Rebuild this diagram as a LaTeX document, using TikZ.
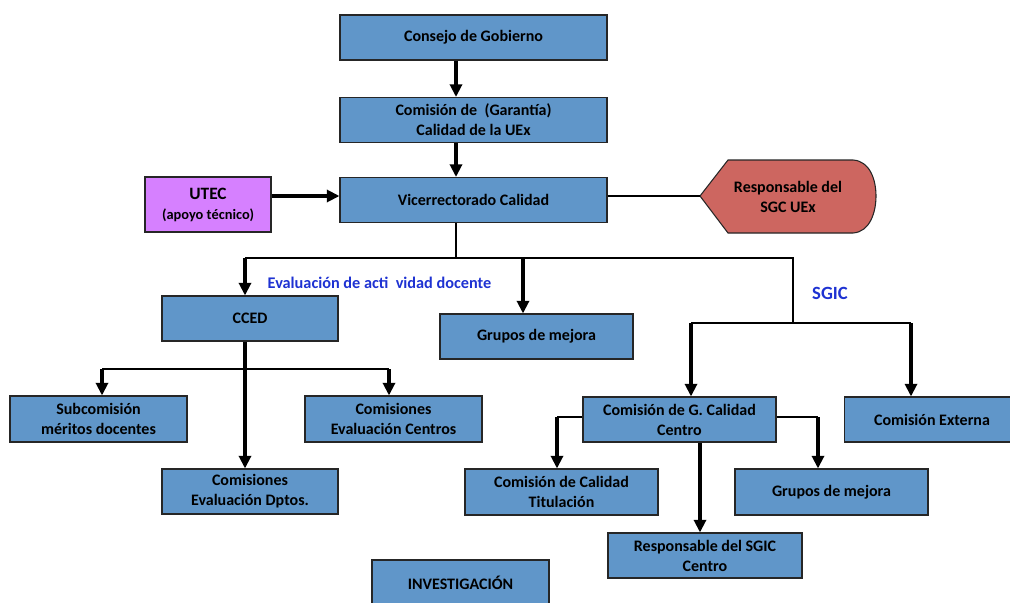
\documentclass[tikz,border=0pt]{standalone}
\usepackage{fontspec}
\setmainfont{Carlito}
\usetikzlibrary{arrows.meta,positioning,calc}
\definecolor{boxblue}{RGB}{96,150,201}
\definecolor{utecpink}{RGB}{214,128,255}
\definecolor{sgcred}{RGB}{205,102,96}
\definecolor{labelblue}{RGB}{30,50,210}

\begin{document}
\begin{tikzpicture}[x=0.75pt,y=-0.75pt,
  box/.style={draw=black!85, fill=boxblue, line width=0.8pt, align=center, inner sep=0pt,
    minimum height=45*0.75pt, font=\bfseries\fontsize{12}{15}\selectfont},
  bw/.style={minimum width=#1*0.75pt},
  lbl/.style={text=labelblue, font=\bfseries\fontsize{12.2}{14}\selectfont},
  ln/.style={line width=1pt},
  arr/.style={line width=2.6pt, -{Triangle[length=9.5pt,width=9pt]}}]
  \useasboundingbox (0,0) rectangle (1010,603);

  \node (CG) [box, bw=267] at (473.5,37.5) {Consejo de Gobierno};
  \node (CC) [box, bw=267] at (473.5,120) {Comisión de~ (Garantía)\\Calidad de la UEx};
  \node (VC) [box, bw=267, minimum height=45*0.75pt] at (473.5,200) {Vicerrectorado Calidad};
  \node (UT) [box, fill=utecpink, bw=126, minimum height=55*0.75pt] at (208,204.5)
    {{\fontsize{13}{16}\selectfont UTEC}\\{\fontsize{10.8}{13}\selectfont (apoyo técnico)}};

  \draw [fill=sgcred, draw=black!85, line width=0.8pt] (700,196) -- (728,160) -- (853,160)
    .. controls (870,161) and (876,180) .. (876,196)
    .. controls (876,212) and (870,232) .. (853,233) -- (728,233) -- cycle;
  \node (RS) [align=center, font=\bfseries\fontsize{12}{15}\selectfont] at (788,197) {Responsable del\\SGC UEx};
  \coordinate (RSw) at (700,196);

  \node (CCED) [box, bw=176] at (250,318.5) {CCED};
  \node (GM1) [box, bw=193] at (536.5,336.5) {Grupos de mejora};
  \node (SM) [box, bw=177, minimum height=46*0.75pt] at (98.5,419) {Subcomisión\\méritos docentes};
  \node (CE) [box, bw=177, minimum height=46*0.75pt] at (393.5,419) {Comisiones\\Evaluación Centros};
  \node (CD) [box, bw=176] at (250,491.5) {Comisiones\\Evaluación Dptos.};
  \node (GC) [box, bw=193] at (679.5,419.5) {Comisión de G. Calidad\\Centro};
  \node (CX) [box, bw=175] at (932,419.5) {Comisión Externa};
  \node (CT) [box, bw=193, minimum height=46*0.75pt] at (561.5,492) {Comisión de Calidad\\Titulación};
  \node (GM2) [box, bw=193, minimum height=46*0.75pt] at (831.5,492) {Grupos de mejora};
  \node (RC) [box, bw=194] at (705,555.5) {Responsable del SGIC\\Centro};
  \node (IN) [box, bw=177, minimum height=46*0.75pt] at (460.5,583) {INVESTIGACIÓN};

  \node (EA) [lbl] at (379.5,283) {Evaluación de acti~~vidad docente};
  \node (SG) [lbl, font=\bfseries\fontsize{14}{16}\selectfont] at (830,293) {SGIC};

  \coordinate (ax) at (456,258);
  \coordinate (j1) at (245,258);
  \coordinate (j2) at (523,258);
  \coordinate (j3) at (793,258);
  \coordinate (j4) at (793,323);
  \coordinate (j5) at (691,323);
  \coordinate (j6) at (911,323);
  \coordinate (k0) at (245,369);
  \coordinate (k1) at (102,369);
  \coordinate (k2) at (389,369);
  \coordinate (m0) at (700,442);
  \coordinate (m1) at (557,417);
  \coordinate (m2) at (818,417);

  \draw [arr] (CG.south -| ax) -- (CC.north -| ax);
  \draw [arr] (CC.south -| ax) -- (VC.north -| ax);
  \draw [arr] (UT.east |- RSw) -- (VC.west |- RSw);
  \draw [ln] (VC.east |- RSw) -- (RSw);

  \draw [ln] (VC.south -| ax) -- (ax);
  \draw [ln] (j1) -- (j3) -- (j4);
  \draw [ln] (j5) -- (j6);
  \draw [arr] (j1) -- (CCED.north -| j1);
  \draw [arr] (j2) -- (GM1.north -| j2);
  \draw [arr] (j5) -- (GC.north -| j5);
  \draw [arr] (j6) -- (CX.north -| j6);

  \draw [arr] (CCED.south -| k0) -- (CD.north -| k0);
  \draw [ln] (k1) -- (k2);
  \draw [arr] (k1) -- (SM.north -| k1);
  \draw [arr] (k2) -- (CE.north -| k2);

  \draw [ln] (GC.west |- m1) -- (m1);
  \draw [arr] (m1) -- (CT.north -| m1);
  \draw [ln] (GC.east |- m2) -- (m2);
  \draw [arr] (m2) -- (GM2.north -| m2);
  \draw [arr] (GC.south -| m0) -- (RC.north -| m0);
\end{tikzpicture}
\end{document}
